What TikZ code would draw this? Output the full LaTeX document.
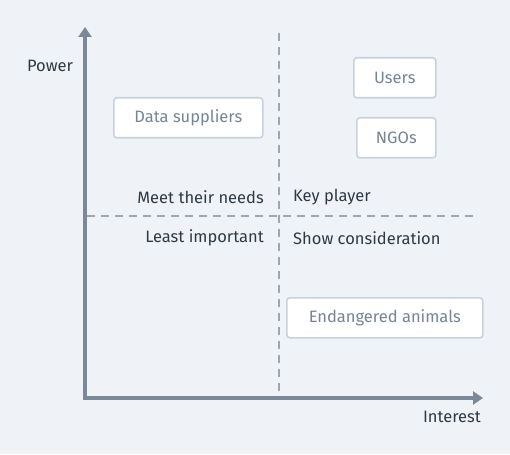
\documentclass[tikz,border=0pt]{standalone}
\usepackage{fontspec}
\setmainfont{Fira Sans}
\usetikzlibrary{arrows.meta}
\definecolor{bg}{HTML}{EFF3F7}
\definecolor{axis}{HTML}{7A8898}
\definecolor{dash}{HTML}{9AA8B5}
\definecolor{boxline}{HTML}{C8D2DC}
\definecolor{boxtext}{HTML}{758595}
\definecolor{labtext}{HTML}{2D3A45}
\tikzset{
  stake/.style={draw=boxline, line width=1.6pt, fill=white, rounded corners=3pt,
    text=boxtext, font=\fontsize{16.5}{19}\selectfont, inner sep=0pt, anchor=north west},
  lab/.style={text=labtext, font=\fontsize{16.5}{19}\selectfont, inner sep=0pt},
  axisline/.style={draw=axis, line width=4pt, -{Triangle[width=13pt,length=10pt]}},
  divider/.style={draw=dash, line width=1.6pt, dash pattern=on 8pt off 6pt}
}
\begin{document}
\begin{tikzpicture}[x=1pt,y=-1pt]
\fill[bg] (0,0) rectangle (510,454);
\useasboundingbox (0,0) rectangle (510,454);
\coordinate (o) at (85,398);
\coordinate (ytip) at (85,27);
\coordinate (xtip) at (483,398);
\coordinate (vt) at (279,33);
\coordinate (vb) at (279,393);
\coordinate (hl) at (87,216);
\coordinate (hr) at (473,216);
\draw[divider] (vt) -- (vb);
\draw[divider] (hl) -- (hr);
\draw[axisline] ([yshift=2pt]o) -- (ytip);
\draw[axisline] ([xshift=-2pt]o) -- (xtip);
\node[stake, minimum width=149pt, minimum height=40pt] (ds) at (113,97) {Data suppliers};
\node[stake, minimum width=82pt, minimum height=40pt] (us) at (353,57) {Users};
\node[stake, minimum width=79pt, minimum height=40pt] (ngo) at (356,117) {NGOs};
\node[stake, minimum width=196pt, minimum height=40pt] (ea) at (286,297) {Endangered animals};
\node[lab] (pw) at (50,66) {Power};
\node[lab, anchor=east] (mn) at (264,197) {Meet their needs};
\node[lab, anchor=west] (kp) at (293,197) {Key player};
\node[lab, anchor=east] (li) at (264,238) {Least important};
\node[lab, anchor=west] (sc) at (293,238) {Show consideration};
\node[lab, anchor=east] (it) at (481,417) {Interest};
\end{tikzpicture}
\end{document}
